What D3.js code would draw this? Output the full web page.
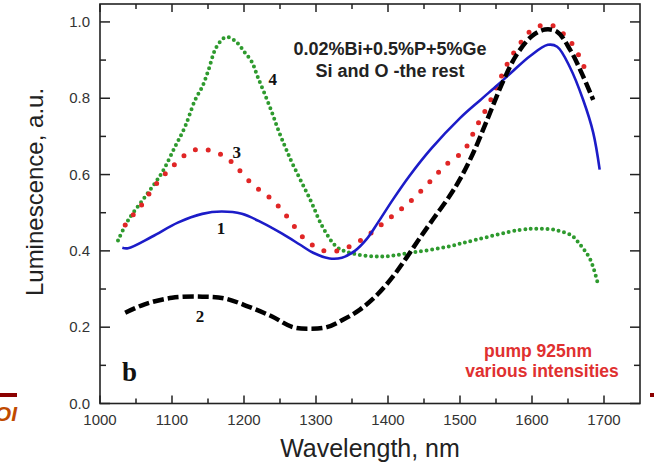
<!DOCTYPE html>
<html>
<head>
<meta charset="utf-8">
<script src="https://cdn.jsdelivr.net/npm/d3@7/dist/d3.min.js"></script>
<style>
  body { margin: 0; background: #fff; }
  svg { display: block; }
</style>
</head>
<body>
<svg id="drawsvg" width="654" height="467"></svg>
<script>
var margin = {left: 100, top: 4, right: 14, bottom: 63.5}
var width = 654, height = 467;

// curve 1, blue solid
var wl1 = [1031,1039,1072,1108,1142,1169,1197,1225,1253,1278,1296,1319,1336,1354,1370,1386,1407,1430,1460,1500,1528,1553,1574,1597,1622,1635,1653,1671,1685,1694];
var lum1 = [.408,.407,.437,.474,.497,.503,.497,.474,.445,.416,.395,.38,.382,.40,.43,.474,.535,.597,.668,.748,.795,.836,.872,.91,.94,.935,.88,.796,.71,.613];

// curve 2, black dashed
var wl2 = [1035,1062,1100,1142,1174,1206,1239,1268,1292,1315,1338,1361,1385,1407,1426,1444,1463,1486,1500,1518,1537,1560,1579,1600,1618,1635,1653,1669,1685];
var lum2 = [.238,.26,.277,.28,.275,.254,.228,.20,.196,.20,.22,.246,.285,.333,.383,.433,.484,.545,.588,.655,.74,.845,.915,.963,.98,.974,.927,.866,.796];

// curve 3, red dots
var wl3 = [1035,1044,1056,1076,1100,1125,1142,1158,1174,1188,1211,1239,1261,1282,1296,1311,1329,1345,1360,1375,1389,1403,1415,1429,1460,1480,1504,1514,1521,1530,1544,1567,1586,1597,1611,1629,1643,1655,1667,1678];
var lum3 = [.468,.49,.516,.57,.62,.66,.667,.66,.647,.623,.576,.534,.487,.435,.414,.40,.40,.41,.425,.445,.466,.487,.505,.526,.585,.625,.66,.69,.72,.75,.80,.895,.95,.975,.99,.99,.97,.945,.905,.856];

// curve 4, green dots
var wl4 = [1025,1039,1062,1086,1104,1118,1132,1142,1150,1162,1175,1188,1201,1211,1219,1229,1239,1247,1257,1267,1292,1310,1329,1347,1389,1431,1480,1524,1583,1607,1632,1655,1667,1681,1692];
var lum4 = [.427,.48,.54,.605,.672,.725,.795,.83,.87,.935,.96,.95,.92,.895,.856,.81,.762,.72,.673,.63,.534,.46,.41,.395,.385,.395,.41,.43,.455,.458,.455,.44,.416,.377,.31];

var xTicks = [1000,1100,1200,1300,1400,1500,1600,1700];
var yTicks = [0.0,0.2,0.4,0.6,0.8,1.0];

var curveLabels = [
  {text: '1', wl: 1168, lum: 0.46},
  {text: '2', wl: 1139, lum: 0.23},
  {text: '3', wl: 1190, lum: 0.66},
  {text: '4', wl: 1240, lum: 0.85}
];

function zipData(wl, lum){
  var out = [];
  for(var i = 0; i < wl.length; i ++)
    out.push([wl[i], lum[i]]);
  return out;
}

var svg = d3.select('#drawsvg');

// slide leftovers around the picture
svg.append('rect').attr('x', 0).attr('y', 393).attr('width', 17).attr('height', 4).style('fill', '#8b0000');
svg.append('rect').attr('x', 650).attr('y', 393).attr('width', 4).attr('height', 4).style('fill', '#8b0000');
svg.append('text')
   .text('DOI')
   .attr('x', 17).attr('y', 421)
   .attr('text-anchor', 'end')
   .style('font', 'italic bold 21px "Liberation Sans", Arial, sans-serif')
   .style('fill', '#c04a00');

var xScale = d3.scaleLinear()
               .domain([1000, 1750])
               .range([margin.left, width - margin.right]);
var yScale = d3.scaleLinear()
               .domain([0, 1.047])
               .range([height - margin.bottom, margin.top]);

var x0 = xScale.range()[0], x1 = xScale.range()[1];
var y0 = yScale.range()[0], y1 = yScale.range()[1];

var minorX = d3.range(1050, 1750, 100);
var minorY = d3.range(0.1, 1.05, 0.2);

var tickStyle = function(sel){
  sel.style('stroke', '#222').style('stroke-width', 1.5);
};

// bottom / top ticks (inside)
var gx = svg.append('g');
xTicks.forEach(function(v){
  gx.append('line').attr('x1', xScale(v)).attr('x2', xScale(v)).attr('y1', y0).attr('y2', y0 - 8).call(tickStyle);
  gx.append('line').attr('x1', xScale(v)).attr('x2', xScale(v)).attr('y1', y1).attr('y2', y1 + 8).call(tickStyle);
});
minorX.forEach(function(v){
  gx.append('line').attr('x1', xScale(v)).attr('x2', xScale(v)).attr('y1', y0).attr('y2', y0 - 5).call(tickStyle);
  gx.append('line').attr('x1', xScale(v)).attr('x2', xScale(v)).attr('y1', y1).attr('y2', y1 + 5).call(tickStyle);
});

var gy = svg.append('g');
yTicks.forEach(function(v){
  gy.append('line').attr('x1', x0).attr('x2', x0 + 10).attr('y1', yScale(v)).attr('y2', yScale(v)).call(tickStyle);
  gy.append('line').attr('x1', x1).attr('x2', x1 - 10).attr('y1', yScale(v)).attr('y2', yScale(v)).call(tickStyle);
});
minorY.forEach(function(v){
  gy.append('line').attr('x1', x0).attr('x2', x0 + 6).attr('y1', yScale(v)).attr('y2', yScale(v)).call(tickStyle);
  gy.append('line').attr('x1', x1).attr('x2', x1 - 6).attr('y1', yScale(v)).attr('y2', yScale(v)).call(tickStyle);
});

// tick labels
var labelFont = '15px "Liberation Sans", Arial, sans-serif';
xTicks.forEach(function(v){
  svg.append('text')
     .text(v)
     .attr('x', xScale(v)).attr('y', y0 + 21.5)
     .attr('text-anchor', 'middle')
     .style('font', labelFont).style('fill', '#333');
});
yTicks.forEach(function(v){
  svg.append('text')
     .text(d3.format('.1f')(v))
     .attr('x', x0 - 10).attr('y', yScale(v) + 5)
     .attr('text-anchor', 'end')
     .style('font', labelFont).style('fill', '#333');
});

// axis titles
svg.append('text')
   .text('Wavelength, nm')
   .attr('x', 370).attr('y', 457)
   .attr('text-anchor', 'middle')
   .style('font', '25px "Liberation Sans", Arial, sans-serif').style('fill', '#222');
svg.append('text')
   .text('Luminescence, a.u.')
   .attr('transform', 'translate(43,192) rotate(-90)')
   .attr('text-anchor', 'middle')
   .style('font', '24px "Liberation Sans", Arial, sans-serif').style('fill', '#222');

// curves
var line = d3.line()
             .x(function(d){ return xScale(d[0]); })
             .y(function(d){ return yScale(d[1]); })
             .curve(d3.curveCatmullRom.alpha(0.5));

var series = [
  {data: zipData(wl4, lum4), color: '#2e9a2e', w: 4, dash: '0 5.6', cap: 'round'},
  {data: zipData(wl3, lum3), color: '#e02626', w: 5, dash: '0 13', cap: 'round'},
  {data: zipData(wl1, lum1), color: '#1c1cc8', w: 2.6, dash: null, cap: 'butt'},
  {data: zipData(wl2, lum2), color: '#000000', w: 4.5, dash: '11 4', cap: 'butt'}
];

series.forEach(function(s){
  svg.append('path')
     .attr('d', line(s.data))
     .style('fill', 'none')
     .style('stroke', s.color)
     .style('stroke-width', s.w)
     .style('stroke-linecap', s.cap)
     .style('stroke-dasharray', s.dash);
});

// frame
svg.append('rect')
   .attr('x', x0).attr('y', y1)
   .attr('width', x1 - x0).attr('height', y0 - y1)
   .style('fill', 'none').style('stroke', '#222').style('stroke-width', 1.6);

// curve numbers
curveLabels.forEach(function(d){
  svg.append('text')
     .text(d.text)
     .attr('x', xScale(d.wl)).attr('y', yScale(d.lum) + 6)
     .attr('text-anchor', 'middle')
     .style('font', 'bold 17px "Liberation Serif", "Times New Roman", serif').style('fill', '#111');
});

svg.append('text')
   .text('b')
   .attr('x', 122).attr('y', 381)
   .style('font', 'bold 27px "Liberation Serif", "Times New Roman", serif').style('fill', '#111');

// composition note
var note = ['0.02%Bi+0.5%P+5%Ge', 'Si and O -the rest'];
note.forEach(function(t, i){
  svg.append('text')
     .text(t)
     .attr('x', 390).attr('y', 55 + i * 22)
     .attr('text-anchor', 'middle')
     .style('font', 'bold 18px "Liberation Sans", Arial, sans-serif').style('fill', '#222');
});

var pump = ['pump 925nm', 'various intensities'];
pump.forEach(function(t, i){
  svg.append('text')
     .text(t)
     .attr('x', 538 + i * 4).attr('y', 357 + i * 20)
     .attr('text-anchor', 'middle')
     .style('font', 'bold 17.5px "Liberation Sans", Arial, sans-serif').style('fill', '#e03030');
});
</script>
</body>
</html>
